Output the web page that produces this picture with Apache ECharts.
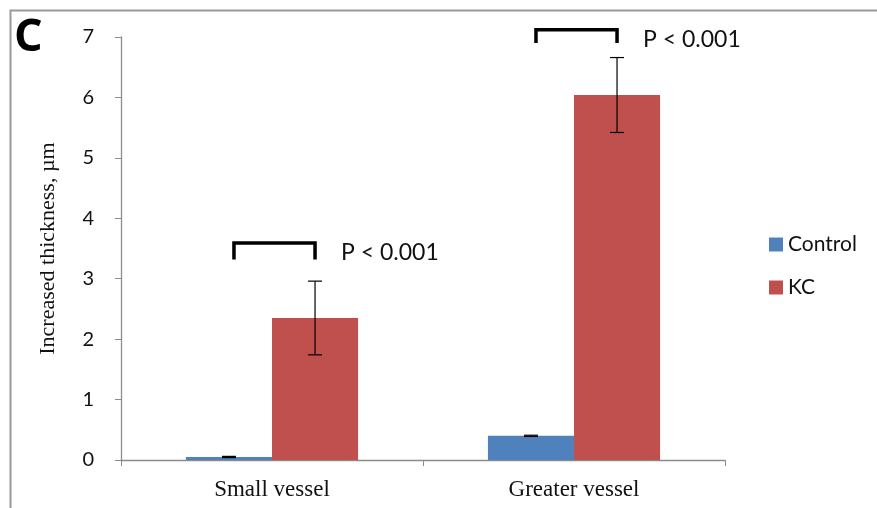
<!DOCTYPE html>
<html><head><meta charset="utf-8">
<script src="https://cdn.jsdelivr.net/npm/echarts@6/dist/echarts.min.js"></script>
<style>html,body{margin:0;padding:0;background:#fff}#c{width:877px;height:508px}</style>
</head><body><div id="c"></div>
<script>
const categories = ['Small vessel', 'Greater vessel'];
const controlValues = [0.05, 0.40];
const controlErr = [0.01, 0.01];
const kcValues = [2.35, 6.04];
const kcErr = [0.61, 0.62];
const bracketTop = [3.59, 7.12];
const bracketLeg = [3.32, 6.9];
const pLabels = ['P < 0.001', 'P < 0.001'];
const yTicks = [0, 1, 2, 3, 4, 5, 6, 7];

const GAP = 0.43;
function errorRender(sign) {
  return function (params, api) {
    const ci = api.value(0), v = api.value(1), e = api.value(2);
    const cw = api.size([1, 0])[0];
    const off = sign * cw * (1 - GAP) / 4;
    const hi = api.coord([ci, v + e]), lo = api.coord([ci, Math.max(v - e, 0)]);
    const x = hi[0] + off, cap = 7;
    const st = { stroke: '#000', lineWidth: 1.2 };
    return { type: 'group', children: [
      { type: 'line', shape: { x1: x, y1: hi[1], x2: x, y2: lo[1] }, style: st },
      { type: 'line', shape: { x1: x - cap, y1: hi[1], x2: x + cap, y2: hi[1] }, style: st },
      { type: 'line', shape: { x1: x - cap, y1: lo[1], x2: x + cap, y2: lo[1] }, style: st }
    ]};
  };
}
function bracketRender(params, api) {
  const ci = api.value(0), top = api.value(1), leg = api.value(2);
  const cw = api.size([1, 0])[0];
  const off = cw * (1 - GAP) / 4;
  const t = api.coord([ci, top]), l = api.coord([ci, leg]);
  const x1 = t[0] - off + 5, x2 = t[0] + off;
  return { type: 'group', children: [
    { type: 'polyline', shape: { points: [[x1, l[1]], [x1, t[1]], [x2, t[1]], [x2, l[1]]] },
      style: { stroke: '#000', lineWidth: 3.5, fill: null, lineJoin: 'miter' } },
    { type: 'text', style: { text: pLabels[params.dataIndex], x: x2 + 26, y: t[1] + 10,
      fill: '#111', font: '23px Lato, "Noto Sans", sans-serif', textVerticalAlign: 'middle' } }
  ]};
}

const chart = echarts.init(document.getElementById('c'));
chart.setOption({
  animation: false,
  graphic: [
    { type: 'rect', shape: { x: 10.5, y: 10.5, width: 900, height: 520 }, style: { fill: null, stroke: '#9a9a9a', lineWidth: 2 } },
    { type: 'text', left: 14, top: 16, style: { text: 'C', font: 'bold 45px "Open Sans", sans-serif', fill: '#000' } }
  ],
  legend: {
    orient: 'vertical', left: 764, top: 229, itemGap: 22, itemWidth: 14, itemHeight: 14,
    icon: 'rect', textStyle: { fontSize: 21, color: '#111', fontFamily: 'Lato, "Noto Sans", sans-serif' },
    data: ['Control', 'KC']
  },
  grid: { left: 121, right: 152, top: 37, bottom: 48 },
  xAxis: {
    type: 'category', data: categories,
    axisLine: { lineStyle: { color: '#8c8c8c', width: 1.3 } },
    axisTick: { show: true, length: 6, lineStyle: { color: '#8c8c8c' } },
    axisLabel: { fontSize: 23, color: '#111', fontFamily: '"Liberation Serif", serif', margin: 18 }
  },
  yAxis: {
    type: 'value', min: 0, max: 7, interval: 1,
    name: 'Increased thickness, µm', nameLocation: 'middle', nameGap: 62, nameRotate: 90,
    nameTextStyle: { fontSize: 22, color: '#111', fontFamily: '"Liberation Serif", serif' },
    axisLine: { show: true, lineStyle: { color: '#8c8c8c', width: 1.3 } },
    axisTick: { show: true, length: 6, lineStyle: { color: '#8c8c8c' } },
    splitLine: { show: false },
    axisLabel: { fontSize: 20, color: '#111', fontFamily: 'Lato, "Noto Sans", sans-serif', margin: 27,
      formatter: v => yTicks.includes(v) ? String(v) : '' }
  },
  series: [
    { name: 'Control', type: 'bar', data: controlValues, barGap: '0%', barCategoryGap: (GAP * 100) + '%',
      itemStyle: { color: '#4F81BD' } },
    { name: 'KC', type: 'bar', data: kcValues, itemStyle: { color: '#C0504D' } },
    { type: 'custom', renderItem: errorRender(-1), clip: false, z: 5,
      data: categories.map((c, i) => [i, controlValues[i], controlErr[i]]) },
    { type: 'custom', renderItem: errorRender(1), clip: false, z: 5,
      data: categories.map((c, i) => [i, kcValues[i], kcErr[i]]) },
    { type: 'custom', renderItem: bracketRender, clip: false, z: 5,
      data: categories.map((c, i) => [i, bracketTop[i], bracketLeg[i]]) }
  ]
});
</script></body></html>
